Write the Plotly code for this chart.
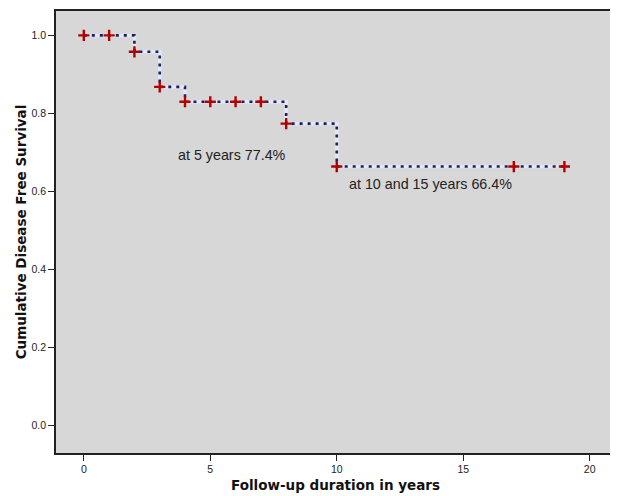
import plotly.graph_objects as go

# Kaplan-Meier step curve
step_t = [0, 2, 3, 4, 8, 10, 19]
step_s = [1.0, 0.958, 0.868, 0.830, 0.774, 0.664, 0.664]

# censored observations
cens_t = [0, 1, 2, 3, 4, 5, 6, 7, 8, 10, 17, 19]
cens_s = [1.0, 1.0, 0.958, 0.868, 0.830, 0.830, 0.830, 0.830, 0.774, 0.664, 0.664, 0.664]

x_ticks = [0, 5, 10, 15, 20]
y_ticks = [0.0, 0.2, 0.4, 0.6, 0.8, 1.0]

fig = go.Figure()
fig.add_trace(go.Scatter(x=step_t, y=step_s, mode="lines", line_shape="hv",
                         line=dict(color="#e4e8f4", width=3.5), hoverinfo="skip",
                         showlegend=False))
fig.add_trace(go.Scatter(x=step_t, y=step_s, mode="lines", line_shape="hv",
                         line=dict(color="#1c2060", width=2.6, dash="3px,5px"),
                         showlegend=False))
fig.add_trace(go.Scatter(x=cens_t, y=cens_s, mode="markers",
                         marker=dict(symbol="cross-thin", size=8,
                                     line=dict(color="#b00000", width=2.4)),
                         showlegend=False))

fig.add_annotation(x=3.65, y=0.694, text="at 5 years 77.4%", showarrow=False,
                   xanchor="left", yanchor="middle",
                   font=dict(family="Liberation Sans, Arial", size=14.3, color="#222222"))
fig.add_annotation(x=10.40, y=0.620, text="at 10 and 15 years 66.4%", showarrow=False,
                   xanchor="left", yanchor="middle",
                   font=dict(family="Liberation Sans, Arial", size=14.3, color="#222222"))

axis_common = dict(showgrid=False, zeroline=False, showline=True, linecolor="#222222",
                   linewidth=1.5, mirror=True, ticks="outside", ticklen=6,
                   tickcolor="#222222", tickwidth=1.3,
                   tickfont=dict(family="Liberation Sans, Arial", size=10.5, color="#222222"))

fig.update_xaxes(range=[-1.1, 21.0], tickvals=x_ticks,
                 title=dict(text="<b>Follow-up duration in years</b>", standoff=6,
                            font=dict(family="DejaVu Sans", size=13.5, color="#111111")),
                 **axis_common)
fig.update_yaxes(range=[-0.070, 1.0625], tickvals=y_ticks, tickformat=".1f",
                 title=dict(text="<b>Cumulative Disease Free Survival</b>", standoff=2,
                            font=dict(family="DejaVu Sans", size=13.5, color="#111111")),
                 **axis_common)

# page body has an 8px margin, so the figure is sized/offset to compensate
fig.update_layout(width=610, height=488, plot_bgcolor="#d7d7d7", paper_bgcolor="white",
                  margin=dict(l=48, r=3, t=1, b=43))

fig.write_html("out.html")
